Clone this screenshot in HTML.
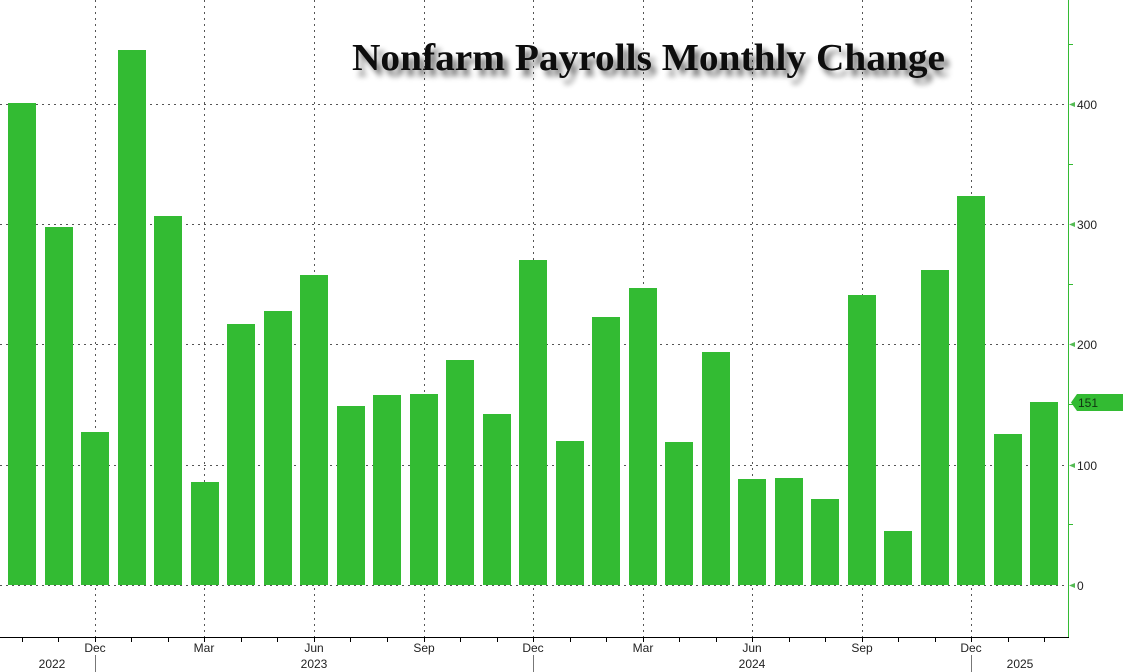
<!DOCTYPE html>
<html><head><style>
html,body{margin:0;padding:0;background:#fff;}
svg{display:block;}
text{font-family:"Liberation Sans",sans-serif;}
</style></head><body>
<svg width="1123" height="672" viewBox="0 0 1123 672" xmlns="http://www.w3.org/2000/svg">
<defs>
<filter id="sh" x="-10%" y="-50%" width="120%" height="200%">
<feGaussianBlur in="SourceAlpha" stdDeviation="3"/>
<feOffset dx="5" dy="6" result="b"/>
<feComponentTransfer><feFuncA type="linear" slope="0.55"/></feComponentTransfer>
<feMerge><feMergeNode/><feMergeNode in="SourceGraphic"/></feMerge>
</filter>
</defs>
<rect width="1123" height="672" fill="#fff"/>
<g stroke="#555" stroke-width="1" stroke-dasharray="2,4">
<line x1="0" y1="104.5" x2="1068" y2="104.5"/>
<line x1="0" y1="224.5" x2="1068" y2="224.5"/>
<line x1="0" y1="344.5" x2="1068" y2="344.5"/>
<line x1="0" y1="465.5" x2="1068" y2="465.5"/>
<line x1="0" y1="585.5" x2="1068" y2="585.5"/>
<line x1="95.5" y1="0" x2="95.5" y2="637"/>
<line x1="204.5" y1="0" x2="204.5" y2="637"/>
<line x1="314.5" y1="0" x2="314.5" y2="637"/>
<line x1="424.5" y1="0" x2="424.5" y2="637"/>
<line x1="533.5" y1="0" x2="533.5" y2="637"/>
<line x1="643.5" y1="0" x2="643.5" y2="637"/>
<line x1="752.5" y1="0" x2="752.5" y2="637"/>
<line x1="862.5" y1="0" x2="862.5" y2="637"/>
<line x1="971.5" y1="0" x2="971.5" y2="637"/>
</g>
<g fill="#33bb33">
<rect x="8" y="103" width="28" height="482"/>
<rect x="45" y="227" width="28" height="358"/>
<rect x="81" y="432" width="28" height="153"/>
<rect x="118" y="50" width="28" height="535"/>
<rect x="154" y="216" width="28" height="369"/>
<rect x="191" y="482" width="28" height="103"/>
<rect x="227" y="324" width="28" height="261"/>
<rect x="264" y="311" width="28" height="274"/>
<rect x="300" y="275" width="28" height="310"/>
<rect x="337" y="406" width="28" height="179"/>
<rect x="373" y="395" width="28" height="190"/>
<rect x="410" y="394" width="28" height="191"/>
<rect x="446" y="360" width="28" height="225"/>
<rect x="483" y="414" width="28" height="171"/>
<rect x="519" y="260" width="28" height="325"/>
<rect x="556" y="441" width="28" height="144"/>
<rect x="592" y="317" width="28" height="268"/>
<rect x="629" y="288" width="28" height="297"/>
<rect x="665" y="442" width="28" height="143"/>
<rect x="702" y="352" width="28" height="233"/>
<rect x="738" y="479" width="28" height="106"/>
<rect x="775" y="478" width="28" height="107"/>
<rect x="811" y="499" width="28" height="86"/>
<rect x="848" y="295" width="28" height="290"/>
<rect x="884" y="531" width="28" height="54"/>
<rect x="921" y="270" width="28" height="315"/>
<rect x="957" y="196" width="28" height="389"/>
<rect x="994" y="434" width="28" height="151"/>
<rect x="1030" y="402" width="28" height="183"/>
</g>
<text x="352" y="70" font-family="'Liberation Serif',serif" style="font-family:'Liberation Serif',serif" font-size="38" font-weight="bold" fill="#111" textLength="593" lengthAdjust="spacingAndGlyphs" filter="url(#sh)">Nonfarm Payrolls Monthly Change</text>
<!-- axes -->
<line x1="1068.5" y1="0" x2="1068.5" y2="637" stroke="#33bb33" stroke-width="1"/>
<line x1="0" y1="637.5" x2="1069" y2="637.5" stroke="#000" stroke-width="1"/>
<g stroke="#000">
<line x1="22.5" y1="637" x2="22.5" y2="642"/><line x1="58.5" y1="637" x2="58.5" y2="642"/>
<line x1="95.5" y1="637" x2="95.5" y2="642"/><line x1="131.5" y1="637" x2="131.5" y2="642"/>
<line x1="168.5" y1="637" x2="168.5" y2="642"/><line x1="204.5" y1="637" x2="204.5" y2="642"/>
<line x1="241.5" y1="637" x2="241.5" y2="642"/><line x1="277.5" y1="637" x2="277.5" y2="642"/>
<line x1="314.5" y1="637" x2="314.5" y2="642"/><line x1="350.5" y1="637" x2="350.5" y2="642"/>
<line x1="387.5" y1="637" x2="387.5" y2="642"/><line x1="424.5" y1="637" x2="424.5" y2="642"/>
<line x1="460.5" y1="637" x2="460.5" y2="642"/><line x1="497.5" y1="637" x2="497.5" y2="642"/>
<line x1="533.5" y1="637" x2="533.5" y2="642"/><line x1="570.5" y1="637" x2="570.5" y2="642"/>
<line x1="606.5" y1="637" x2="606.5" y2="642"/><line x1="643.5" y1="637" x2="643.5" y2="642"/>
<line x1="679.5" y1="637" x2="679.5" y2="642"/><line x1="716.5" y1="637" x2="716.5" y2="642"/>
<line x1="752.5" y1="637" x2="752.5" y2="642"/><line x1="789.5" y1="637" x2="789.5" y2="642"/>
<line x1="825.5" y1="637" x2="825.5" y2="642"/><line x1="862.5" y1="637" x2="862.5" y2="642"/>
<line x1="898.5" y1="637" x2="898.5" y2="642"/><line x1="935.5" y1="637" x2="935.5" y2="642"/>
<line x1="971.5" y1="637" x2="971.5" y2="642"/><line x1="1008.5" y1="637" x2="1008.5" y2="642"/>
<line x1="1044.5" y1="637" x2="1044.5" y2="642"/>
</g>
<g stroke="#777"><line x1="95.5" y1="655" x2="95.5" y2="672"/><line x1="533.5" y1="655" x2="533.5" y2="672"/><line x1="971.5" y1="655" x2="971.5" y2="672"/></g>
<g font-size="12" fill="#222" text-anchor="middle">
<text x="95" y="652">Dec</text><text x="204" y="652">Mar</text><text x="314" y="652">Jun</text><text x="424" y="652">Sep</text>
<text x="533" y="652">Dec</text><text x="643" y="652">Mar</text><text x="752" y="652">Jun</text><text x="862" y="652">Sep</text>
<text x="971" y="652">Dec</text>
<text x="52" y="668">2022</text><text x="314" y="668">2023</text><text x="752" y="668">2024</text><text x="1020" y="668">2025</text>
</g>
<g fill="#55bb55">
<polygon points="1069,104.5 1075,102 1075,107"/>
<polygon points="1069,224.5 1075,222 1075,227"/>
<polygon points="1069,344.5 1075,342 1075,347"/>
<polygon points="1069,465.5 1075,463 1075,468"/>
<polygon points="1069,585.5 1075,583 1075,588"/>
</g>
<g stroke="#33bb33"><line x1="1068" y1="44.5" x2="1073" y2="44.5"/><line x1="1068" y1="164.5" x2="1073" y2="164.5"/><line x1="1068" y1="284.5" x2="1073" y2="284.5"/><line x1="1068" y1="404.5" x2="1073" y2="404.5"/><line x1="1068" y1="524.5" x2="1073" y2="524.5"/></g>
<g font-size="12" fill="#222">
<text x="1077" y="109">400</text><text x="1077" y="229">300</text><text x="1077" y="349">200</text><text x="1077" y="470">100</text><text x="1077" y="590">0</text>
</g>
<polygon points="1071,402.5 1077,394 1123,394 1123,411 1077,411" fill="#33bb33"/>
<text x="1078" y="407" font-size="12" fill="#113311">151</text>
</svg>
</body></html>
